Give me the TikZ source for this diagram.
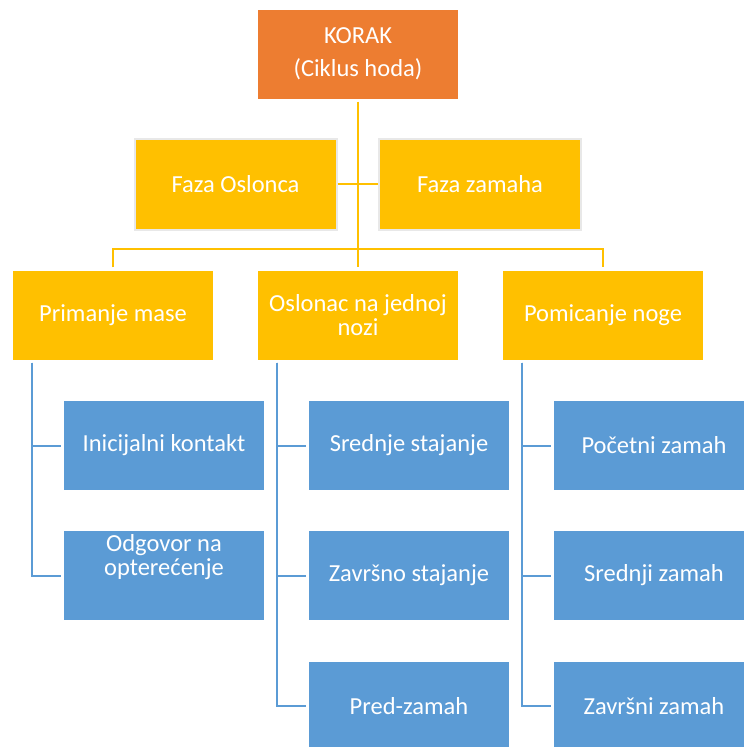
\documentclass[tikz,border=0pt]{standalone}
\usepackage{fontspec}
\setmainfont{Carlito}
\definecolor{korange}{HTML}{ED7D31}
\definecolor{kyellow}{HTML}{FFC000}
\definecolor{kblue}{HTML}{5B9BD5}
\definecolor{kgray}{HTML}{E8E8E8}
\tikzset{
  box/.style={rectangle, minimum width=200pt, minimum height=89pt, inner sep=0pt,
    text=white, font=\fontsize{24.5}{23.5}\selectfont, align=center},
  orangebox/.style={box, fill=korange},
  yellowbox/.style={box, fill=kyellow},
  grayedged/.style={box, fill=kyellow, draw=kgray, line width=2pt, minimum width=202pt, minimum height=91pt},
  bluebox/.style={box, fill=kblue},
  yline/.style={draw=kyellow, line width=2pt},
  bline/.style={draw=kblue, line width=2pt},
}
\begin{document}
\begin{tikzpicture}[x=1pt, y=-1pt]
\useasboundingbox (0,0) rectangle (744,747);
\clip (0,0) rectangle (744,747);
% top
\node[orangebox, font=\fontsize{24.5}{33}\selectfont] (top) at (358,54) {KORAK\\(Ciklus hoda)};
\node[grayedged] (faza1) at (235.5,184) {Faza Oslonca};
\node[grayedged] (faza2) at (480,184) {Faza zamaha};
% second level
\node[yellowbox] (prim) at (113,315) {Primanje mase};
\node[yellowbox] (osl) at (358,315) {Oslonac na jednoj\\nozi};
\node[yellowbox] (pom) at (603,315) {Pomicanje noge};
% third level
\node[bluebox] (ini) at (164,445.5) {Inicijalni kontakt};
\node[bluebox] (odg) at (164,575.5) {};
\node[text=white, font=\fontsize{24.5}{24.5}\selectfont, align=center, inner sep=0pt] (odgtxt) at (164,557) {Odgovor na\\optere\'{c}enje};
\node[bluebox] (sred) at (409,445.5) {Srednje stajanje};
\node[bluebox] (zavs) at (409,575.5) {Završno stajanje};
\node[bluebox] (pred) at (409,706) {Pred-zamah};
\node[bluebox] (poc) at (654,445.5) {Početni zamah};
\node[bluebox] (srz) at (654,575.5) {Srednji zamah};
\node[bluebox] (zavz) at (654,706) {Završni zamah};
% yellow connectors
\draw[yline] ([yshift=-3pt]top.south) -- ([yshift=3pt]osl.north);
\draw[yline] (faza1.east) -- (faza2.west);
\draw[yline] ([yshift=3pt]prim.north) -- ++(0,-18) -| ([yshift=3pt]pom.north);
% blue connectors
\coordinate (pc) at ([xshift=19pt,yshift=-3pt]prim.south west);
\coordinate (oc) at ([xshift=19pt,yshift=-3pt]osl.south west);
\coordinate (mc) at ([xshift=19pt,yshift=-3pt]pom.south west);
\draw[bline] (pc) |- ([xshift=-3pt]ini.west);
\draw[bline] (pc) |- ([xshift=-3pt]odg.west);
\draw[bline] (oc) |- ([xshift=-3pt]sred.west);
\draw[bline] (oc) |- ([xshift=-3pt]zavs.west);
\draw[bline] (oc) |- ([xshift=-3pt]pred.west);
\draw[bline] (mc) |- ([xshift=-3pt]poc.west);
\draw[bline] (mc) |- ([xshift=-3pt]srz.west);
\draw[bline] (mc) |- ([xshift=-3pt]zavz.west);
\end{tikzpicture}
\end{document}
